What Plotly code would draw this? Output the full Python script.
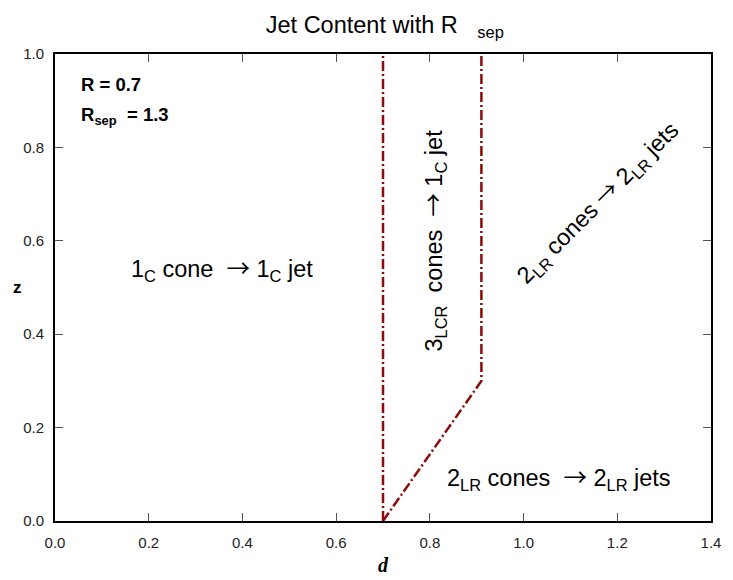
import plotly.graph_objects as go

# Region boundaries (d, z)
line1_d = [0.7, 0.7]
line1_z = [0.0, 1.0]
line2_d = [0.7, 0.91, 0.91]
line2_z = [0.0, 0.3, 1.0]

x_ticks = [0.0, 0.2, 0.4, 0.6, 0.8, 1.0, 1.2, 1.4]
y_ticks = [0.0, 0.2, 0.4, 0.6, 0.8, 1.0]

LINE_COLOR = "#8b0a0a"
DASH = "10px,3px,2px,3px"
FONT = "Liberation Sans, Arial, sans-serif"
BIG = 23.5
ARROW = '<span style="font-family:Noto Sans CJK SC">\u2192</span>'

fig = go.Figure()
fig.add_trace(go.Scatter(x=line1_d, y=line1_z, mode="lines",
                         line=dict(color=LINE_COLOR, width=2.5, dash=DASH),
                         showlegend=False, hoverinfo="skip"))
fig.add_trace(go.Scatter(x=line2_d, y=line2_z, mode="lines",
                         line=dict(color=LINE_COLOR, width=2.5, dash=DASH),
                         showlegend=False, hoverinfo="skip"))

axis_common = dict(
    showline=True, linecolor="black", linewidth=2, mirror="ticks",
    ticks="inside", ticklen=8, tickcolor="#555", tickwidth=1,
    showgrid=False, zeroline=False,
    tickfont=dict(family=FONT, size=15, color="#222"),
    tickformat=".1f",
)

fig.update_xaxes(range=[0, 1.4], tickvals=x_ticks, ticklabelstandoff=7, **axis_common)
fig.update_yaxes(range=[0, 1.0], tickvals=y_ticks, ticklabelstandoff=6, **axis_common)

fig.add_annotation(xref="paper", yref="paper", x=0.036, y=0.934, xanchor="left", yanchor="middle",
                   text="<b>R = 0.7</b>", showarrow=False, font=dict(family=FONT, size=18.5, color="black"))
fig.add_annotation(xref="paper", yref="paper", x=0.036, y=0.868, xanchor="left", yanchor="middle",
                   text="<b>R<sub>sep</sub>  = 1.3</b>", showarrow=False, font=dict(family=FONT, size=18.5, color="black"))

fig.add_annotation(x=0.357, y=0.542, text="1<sub>C</sub> cone  " + ARROW + " 1<sub>C</sub> jet", showarrow=False,
                   font=dict(family=FONT, size=BIG, color="black"))
fig.add_annotation(x=0.806, y=0.60, text="3<sub>LCR</sub>  cones  " + ARROW + " 1<sub>C</sub> jet", showarrow=False,
                   textangle=-90, font=dict(family=FONT, size=BIG, color="black"))
fig.add_annotation(x=1.156, y=0.684, text="2<sub>LR</sub> cones " + ARROW + " 2<sub>LR</sub> jets", showarrow=False,
                   textangle=-45, font=dict(family=FONT, size=BIG, color="black"))
fig.add_annotation(x=1.076, y=0.096, text="2<sub>LR</sub> cones  " + ARROW + " 2<sub>LR</sub> jets", showarrow=False,
                   font=dict(family=FONT, size=BIG, color="black"))

# axis titles
fig.add_annotation(xref="paper", yref="paper", x=0.5, y=-0.095, yanchor="middle",
                   text="<b><i>d</i></b>", showarrow=False,
                   font=dict(family="Liberation Serif, Times New Roman, serif", size=20, color="black"))
fig.add_annotation(xref="paper", yref="paper", x=-0.057, y=0.5, xanchor="center", yanchor="middle",
                   text="<b>z</b>", showarrow=False,
                   font=dict(family=FONT, size=17, color="black"))

fig.update_layout(
    width=733, height=580,
    margin=dict(l=55, r=12, t=54, b=59),
    paper_bgcolor="white", plot_bgcolor="white",
    title=dict(text="Jet Content with R   <sub>sep</sub>", x=0.525, xanchor="center", y=0.958, yanchor="middle",
               font=dict(family=FONT, size=23.5, color="black")),
    showlegend=False,
)

fig.write_html("out.html")
